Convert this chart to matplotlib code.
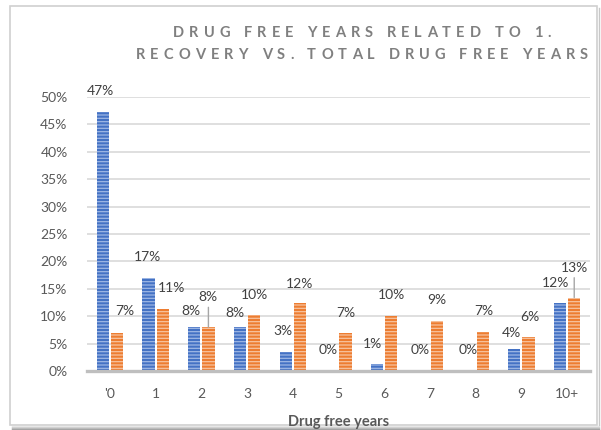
import matplotlib
matplotlib.use("Agg")
import matplotlib.pyplot as plt
from matplotlib.patches import Rectangle
from matplotlib.font_manager import FontProperties
from matplotlib.ticker import FuncFormatter
import numpy as np

plt.rcParams['font.family'] = ['Lato', 'DejaVu Sans']
plt.rcParams['hatch.linewidth'] = 0.9

# share of people (%) per number of drug free years
years = ["'0", "1", "2", "3", "4", "5", "6", "7", "8", "9", "10+"]
related_recovery = [47.3, 17.0, 8.0, 8.0, 3.4, 0.0, 1.2, 0.0, 0.0, 4.1, 12.4]
total_drug_free = [6.9, 11.3, 8.0, 10.2, 12.4, 6.9, 10.1, 9.1, 7.2, 6.2, 13.4]
yticks = [0, 5, 10, 15, 20, 25, 30, 35, 40, 45, 50]
title_lines = ['DRUG FREE YEARS RELATED TO 1.', 'RECOVERY VS. TOTAL DRUG FREE YEARS']

# label nudges in pixels (dx, dy from bar top)
blue_dx = [-2, -1, -3, -5, -3, -3, -5, -3, 0, -3, -5]
blue_dy = [21, 21, 16, 14, 21, 21, 20, 21, 21, 16, 20]
orange_dx = [8, 9, 0, 0, 0, 0, 0, 0, 1, 1, 0]
orange_dy = [22, 21, 30, 20, 19, 20, 21, 21, 21, 20, 30]
leader = [False, False, True, False, False, False, False, False, False, False, True]

W, H = 601, 430
fig = plt.figure(figsize=(W / 100, H / 100), dpi=100)
fig.patch.set_facecolor('white')

# chart frame, shadow gets darker towards the bottom edge
shadow_cols = ['#ececec', '#d6d6d6', '#c0c0c0', '#a8a8a8', '#959595']
for k, c in enumerate(shadow_cols):
    y = 1 - (425.5 + k) / H
    fig.add_artist(plt.Line2D([12 / W, 599 / W], [y, y], color=c, lw=1,
                              transform=fig.transFigure, zorder=-2))
fig.add_artist(plt.Line2D([598.5 / W, 598.5 / W], [1 - 8 / H, 1 - 425 / H],
                          color='#c8c8c8', lw=1, transform=fig.transFigure,
                          zorder=-2))
fig.add_artist(Rectangle((10 / W, 1 - 425 / H), 587 / W, 419 / H,
                         transform=fig.transFigure, fill=False,
                         edgecolor='#d0d0d0', lw=1.2, zorder=-1))

ax = fig.add_axes([87 / W, 1 - 371 / H, 503 / W, 274 / H])
ax.set_facecolor('none')
x = np.arange(len(years))
bw = 0.27
off = 0.155

blue_bars = ax.bar(x - off, related_recovery, bw, color='#4472c4',
                   edgecolor='#9db6e4', hatch='-----', linewidth=0, zorder=3)
orange_bars = ax.bar(x + off, total_drug_free, bw, color='#ed7d31',
                     edgecolor='#f7c29e', hatch='-----', linewidth=0, zorder=3)

ax.set_xlim(-0.5, len(years) - 0.5)
ax.set_ylim(0, 50)
ax.set_yticks(yticks)
ax.yaxis.set_major_formatter(FuncFormatter(lambda v, p: f"{v:.0f}%"))
ax.set_xticks(x)
ax.set_xticklabels(years)
ax.tick_params(axis='both', length=0, labelsize=10, labelcolor='#595959')
ax.tick_params(axis='y', pad=14)
ax.tick_params(axis='x', pad=12)
ax.grid(axis='y', color='#d9d9d9', lw=1.2, zorder=0)
for s in ['top', 'right', 'left']:
    ax.spines[s].set_visible(False)
ax.spines['bottom'].set_color('#bfbfbf')
ax.spines['bottom'].set_linewidth(2.4)
ax.spines['bottom'].set_zorder(4)

ax.set_xlabel('Drug free years', fontsize=10.5, fontweight='bold',
              color='#595959', labelpad=11)


def add_labels(bars, values, dxs, dys, lines=None):
    for i, (b, v) in enumerate(zip(bars, values)):
        xc = b.get_x() + b.get_width() / 2
        props = None
        if lines is not None and lines[i]:
            props = dict(arrowstyle='-', color='#a6a6a6', lw=1.0,
                         shrinkA=1, shrinkB=0)
        ax.annotate(f"{v:.0f}%", (xc, v), xytext=(dxs[i], dys[i]),
                    textcoords='offset pixels', ha='center', va='center',
                    fontsize=10, color='#404040', arrowprops=props,
                    annotation_clip=False, zorder=5)


add_labels(blue_bars, related_recovery, blue_dx, blue_dy)
add_labels(orange_bars, total_drug_free, orange_dx, orange_dy, leader)

# letter-spaced title, placed one character at a time
renderer = fig.canvas.get_renderer()
tprop = FontProperties(family=['Lato', 'DejaVu Sans'], weight='bold', size=10.5)


def text_width(s):
    return renderer.get_text_width_height_descent(s, tprop, ismath=False)[0]


longest = title_lines[1]
tracking = (452 - text_width(longest)) / (len(longest) - 1)
for line, ypix in zip(title_lines, [37, 59]):
    total = text_width(line) + tracking * (len(line) - 1)
    x0 = 362 - total / 2
    for k, ch in enumerate(line):
        if ch == ' ':
            continue
        xk = x0 + text_width(line[:k]) + tracking * k
        fig.text(xk / W, 1 - ypix / H, ch, ha='left', va='baseline',
                 fontproperties=tprop, color='#7f7f7f')

fig.savefig('out.png', dpi=100)
